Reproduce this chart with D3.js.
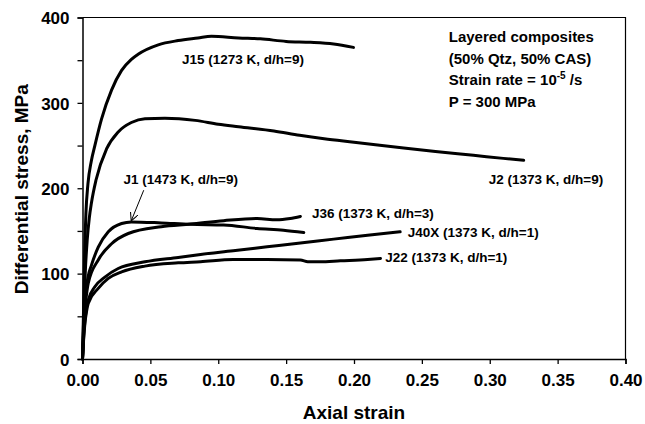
<!DOCTYPE html>
<html>
<head>
<meta charset="utf-8">
<script src="https://cdn.jsdelivr.net/npm/d3@7"></script>
<style>
  html, body { margin: 0; padding: 0; background: #fff; }
  svg { display: block; }
  text { font-family: "Liberation Sans", Arial, Helvetica, sans-serif; font-weight: bold; fill: #000; }
</style>
</head>
<body>
<svg id="chart" width="645" height="424"></svg>
<script>
// Stress–strain curves of layered quartz/CAS composites (strain, MPa)
const j15Strain = [0, 0.0008, 0.0015, 0.0025, 0.004, 0.0065, 0.0091, 0.014, 0.0214, 0.0288, 0.036, 0.041, 0.0558, 0.0705, 0.085, 0.095, 0.115, 0.131, 0.15, 0.168, 0.185, 0.1996];
const j15Stress = [0, 60, 120, 170, 205, 232, 250, 281, 315, 338, 351, 357, 368, 373, 376, 378, 376, 375, 372, 371, 369, 365];

const j2Strain = [0, 0.001, 0.002, 0.0035, 0.005, 0.0066, 0.01, 0.0177, 0.0263, 0.036, 0.046, 0.0607, 0.083, 0.1, 0.115, 0.141, 0.16, 0.178, 0.2, 0.227, 0.26, 0.288, 0.31, 0.325];
const j2Stress = [0, 55, 100, 140, 165, 183, 210, 246, 266, 277, 281.5, 282, 279.5, 275, 272, 267, 262, 258, 254, 249, 243, 238.6, 235, 232.7];

const j1Strain = [0, 0.0008, 0.0018, 0.003, 0.0042, 0.0066, 0.0116, 0.019, 0.0288, 0.036, 0.058, 0.0795, 0.104, 0.1286, 0.148, 0.163];
const j1Stress = [0, 35, 65, 85, 97, 110, 131, 149, 158.7, 160.6, 159.4, 157.7, 157, 152.9, 150.9, 148.2];

const j36Strain = [0, 0.0008, 0.0018, 0.003, 0.0042, 0.0116, 0.0214, 0.0337, 0.058, 0.0795, 0.104, 0.1286, 0.143, 0.153, 0.1605];
const j36Stress = [0, 30, 58, 76, 88.5, 116, 135, 147, 155, 158, 162, 164.6, 163, 164.6, 167];

const j40xStrain = [0, 0.0008, 0.0018, 0.003, 0.0042, 0.0091, 0.0165, 0.0263, 0.046, 0.0705, 0.087, 0.111, 0.136, 0.1605, 0.185, 0.21, 0.234];
const j40xStress = [0, 25, 45, 60, 69, 84.6, 96, 106, 113.8, 119, 122.5, 126.7, 131.4, 136, 140.4, 145, 149];

const j22Strain = [0, 0.0008, 0.0018, 0.003, 0.0042, 0.0116, 0.019, 0.0288, 0.046, 0.0705, 0.087, 0.111, 0.136, 0.1605, 0.166, 0.175, 0.19, 0.21, 0.2195];
const j22Stress = [0, 22, 42, 56, 65, 82.7, 94.4, 102, 108.8, 112.6, 114, 116.6, 116.6, 116, 114, 113.8, 115, 116.6, 117.8];

const seriesNames = ["J15 (1273 K, d/h=9)", "J2 (1373 K, d/h=9)", "J1 (1473 K, d/h=9)", "J36 (1373 K, d/h=3)", "J40X (1373 K, d/h=1)", "J22 (1373 K, d/h=1)"];

const xTicks = [0, 0.05, 0.10, 0.15, 0.20, 0.25, 0.30, 0.35, 0.40];
const yTicks = [0, 50, 100, 150, 200, 250, 300, 350, 400];
const yTickLabels = [0, 100, 200, 300, 400];

const noteLines = ["Layered composites", "(50% Qtz, 50% CAS)", "Strain rate = 10", "P = 300 MPa"];

// ---- layout ----
const svg = d3.select("#chart");
const margin = { left: 82.5, right: 625.5, top: 17.5, bottom: 359 };

const x = d3.scaleLinear().domain([0, 0.4]).range([margin.left, margin.right]);
const y = d3.scaleLinear().domain([0, 400]).range([margin.bottom, margin.top]);

// plot frame (top and right edges)
svg.append("path")
  .attr("d", `M${margin.left},${margin.top}H${margin.right}V${margin.bottom}`)
  .attr("fill", "none").attr("stroke", "#000").attr("stroke-width", 1.2);

// x axis
const xAxis = d3.axisBottom(x).tickValues(xTicks).tickSize(5).tickPadding(10)
  .tickFormat(d3.format(".2f"));
const gx = svg.append("g").attr("transform", `translate(0,${margin.bottom})`).call(xAxis);
gx.select(".domain").attr("stroke-width", 1.5);
gx.selectAll(".tick line").attr("stroke-width", 1.3);
gx.selectAll("text").style("font-size", "17px");

// y axis
const yAxis = d3.axisLeft(y).tickValues(yTicks).tickSize(5).tickPadding(8)
  .tickFormat(d => yTickLabels.includes(d) ? d : "");
const gy = svg.append("g").attr("transform", `translate(${margin.left},0)`).call(yAxis);
gy.select(".domain").attr("stroke-width", 1.5);
gy.selectAll(".tick line").attr("stroke-width", 1.3);
gy.selectAll("text").style("font-size", "17px");
gy.selectAll(".tick text").attr("dy", "0.36em");
gx.attr("font-family", null); gy.attr("font-family", null);

// axis titles
svg.append("text")
  .attr("x", (margin.left + margin.right) / 2).attr("y", 419)
  .attr("text-anchor", "middle").style("font-size", "19px")
  .text("Axial strain");
svg.append("text")
  .attr("transform", `translate(28,${(margin.top + margin.bottom) / 2 + 1}) rotate(-90)`)
  .attr("text-anchor", "middle").style("font-size", "19px")
  .text("Differential stress, MPa");

// curves
const curves = [
  [j15Strain, j15Stress],
  [j2Strain, j2Stress],
  [j1Strain, j1Stress],
  [j36Strain, j36Stress],
  [j40xStrain, j40xStress],
  [j22Strain, j22Stress]
];
const line = d3.line()
  .x(d => x(d[0])).y(d => y(d[1]))
  .curve(d3.curveMonotoneX);

svg.append("g").selectAll("path")
  .data(curves.map(([s, t]) => d3.zip(s, t)))
  .join("path")
  .attr("d", line)
  .attr("fill", "none")
  .attr("stroke", "#000")
  .attr("stroke-width", 3)
  .attr("stroke-linejoin", "round")
  .attr("stroke-linecap", "round");

// curve labels, anchored in data units
const labelAnchors = [
  [0.0733, 345.8],
  [0.2993, 205.5],
  [0.0302, 205.5],
  [0.169, 165.5],
  [0.2396, 143],
  [0.2231, 113.8]
];
svg.append("g").selectAll("text")
  .data(seriesNames)
  .join("text")
  .attr("x", (d, i) => x(labelAnchors[i][0]))
  .attr("y", (d, i) => y(labelAnchors[i][1]))
  .style("font-size", "13.5px")
  .text(d => d);

// arrow pointing from the J1 label to its curve
const defs = svg.append("defs");
defs.append("marker")
  .attr("id", "arrowhead")
  .attr("viewBox", "0 0 10 10")
  .attr("refX", 9).attr("refY", 5)
  .attr("markerWidth", 8).attr("markerHeight", 8)
  .attr("markerUnits", "userSpaceOnUse")
  .attr("orient", "auto")
  .append("path")
  .attr("d", "M0,0L10,5L0,10")
  .attr("fill", "none").attr("stroke", "#000").attr("stroke-width", 1.3);

const arrowFrom = [0.0451, 197.7];
const arrowTo = [0.0361, 162.6];
svg.append("line")
  .attr("x1", x(arrowFrom[0])).attr("y1", y(arrowFrom[1]))
  .attr("x2", x(arrowTo[0])).attr("y2", y(arrowTo[1]))
  .attr("stroke", "#000").attr("stroke-width", 1)
  .attr("marker-end", "url(#arrowhead)");

// experimental conditions note
const noteX = 0.2698;
const noteY = [371, 345.8, 320.5, 295];
const note = svg.append("g");
noteLines.forEach((t, i) => {
  const tx = note.append("text")
    .attr("x", x(noteX)).attr("y", y(noteY[i]))
    .style("font-size", "15px")
    .text(t);
  if (i === 2) {
    tx.append("tspan").attr("dy", -6).style("font-size", "10px").text("-5");
    tx.append("tspan").attr("dy", 6).text(" /s");
  }
});
</script>
</body>
</html>
